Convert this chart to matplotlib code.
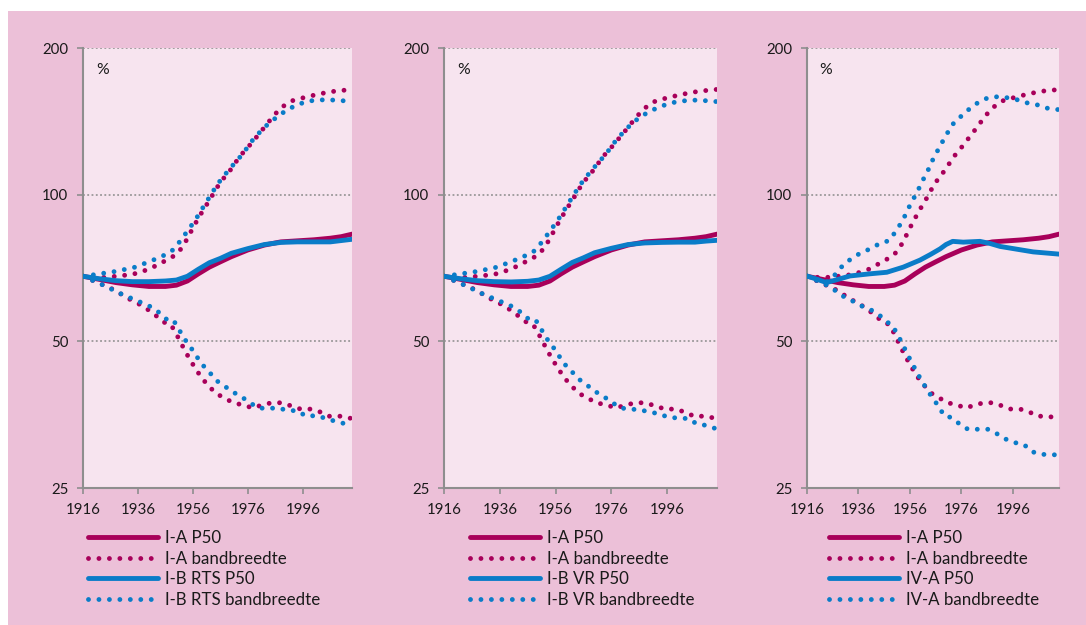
import matplotlib
matplotlib.use("Agg")
import matplotlib.pyplot as plt
from matplotlib.patches import Rectangle
from matplotlib.ticker import FixedLocator, NullLocator, FixedFormatter

plt.rcParams['font.family'] = ['Lato', 'DejaVu Sans']

# ---------------- data ----------------
# I-A (shared by all three panels)
ia_p50_years = [1916, 1922, 1928, 1934, 1940, 1946, 1950, 1954, 1958, 1962, 1966, 1970,
                1976, 1982, 1988, 1994, 2000, 2006, 2010, 2014]
ia_p50 = [68.0, 67.0, 66.0, 65.3, 64.8, 64.8, 65.2, 66.5, 68.8, 71.0, 72.8, 74.6,
          77.0, 78.8, 80.0, 80.4, 80.8, 81.4, 82.0, 83.0]

ia_up_years = [1916, 1922, 1928, 1934, 1940, 1944, 1948, 1950, 1952, 1954, 1956, 1958, 1960,
               1962, 1964, 1966, 1968, 1970, 1972, 1974, 1976, 1978, 1980, 1982, 1984, 1986,
               1988, 1990, 1992, 1996, 2000, 2004, 2008, 2012, 2014]
ia_up = [68, 67.5, 68, 68.6, 70.3, 72.2, 74.2, 75.5, 77.8, 81.3, 85.5, 89.5, 93.5,
         97.3, 101.8, 106, 109.5, 113, 117.5, 121.5, 125, 129, 133, 137.5, 142, 146.5,
         150.5, 153.5, 155.8, 158, 160, 161.8, 163.2, 164, 164.5]

ia_lo_years = [1916, 1920, 1927, 1933, 1936.7, 1940, 1943, 1945.8, 1947.9, 1949.7, 1951.5,
               1953.3, 1955.1, 1957.1, 1959.3, 1961.7, 1964.4, 1967.6, 1970.7, 1974.3,
               1977.7, 1981.2, 1984.6, 1988, 1991.5, 1995.2, 1998.8, 2002.4, 2005.6,
               2009.5, 2014]
ia_lo = [68, 66.5, 63.9, 61.0, 59.5, 57.9, 56.2, 54.6, 54.2, 52.1, 49.8,
         47.6, 45.7, 43.8, 42.0, 40.5, 39.1, 38.2, 37.4, 37.0,
         36.5, 37.0, 37.4, 37.4, 36.9, 36.3, 36.3, 35.8, 35.1,
         35.1, 34.7]

# I-B RTS
ibr_p50_years = [1916, 1922, 1928, 1934, 1940, 1946, 1950, 1954, 1958, 1962, 1966, 1970,
                 1976, 1982, 1988, 1994, 2000, 2006, 2010, 2014]
ibr_p50 = [68.0, 67.2, 66.6, 66.3, 66.3, 66.5, 66.8, 68.0, 70.3, 72.5, 74.0, 75.8,
           77.5, 79.0, 79.8, 80.0, 80.0, 80.0, 80.5, 81.0]

ibr_up_years = [1916, 1920, 1928, 1935, 1942, 1946, 1948, 1950, 1952, 1954, 1956, 1958, 1960,
                1962, 1964, 1966, 1968, 1970, 1974, 1978, 1982, 1986, 1990, 1994, 1998,
                2002, 2006, 2010, 2014]
ibr_up = [68, 68.5, 69.6, 71, 73.6, 75.3, 76.3, 78.5, 81.2, 84.2, 87.3, 90.8, 94.8,
          98.8, 103, 107, 110.5, 114, 121, 130, 137.5, 143.5, 149, 153, 155.6,
          156.5, 156.5, 156, 155.2]

ibr_lo_years = [1916, 1923.4, 1930.3, 1937.1, 1940.6, 1943.7, 1946.4, 1948.8, 1950.9, 1952.8,
                1955.1, 1957.2, 1959.4, 1961.9, 1964.4, 1967.4, 1970.4, 1973.6, 1976.5,
                1979.7, 1983, 1986.8, 1990.3, 1993.9, 1997.3, 2001, 2004.6, 2008.3, 2014]
ibr_lo = [68, 65.2, 62.4, 60.1, 58.9, 57.3, 55.5, 55.4, 52.9, 50.7,
          48.7, 46.7, 44.8, 43.3, 41.6, 40.5, 39.4, 38.5, 37.5,
          36.5, 36.4, 36.5, 36.1, 36.0, 35.1, 35.2, 34.7, 34.2, 33.6]

# I-B VR
ibv_p50_years = [1916, 1922, 1928, 1934, 1940, 1946, 1950, 1954, 1958, 1962, 1966, 1970,
                 1976, 1982, 1988, 1994, 2000, 2006, 2010, 2014]
ibv_p50 = [68.0, 67.2, 66.6, 66.3, 66.2, 66.4, 66.8, 68.0, 70.3, 72.6, 74.2, 76.0,
           77.6, 79.0, 79.6, 79.8, 79.9, 79.9, 80.3, 80.6]

ibv_up_years = [1916, 1920, 1928, 1935, 1942, 1946, 1948, 1950, 1952, 1954, 1956, 1958, 1960,
                1962, 1964, 1966, 1968, 1970, 1974, 1978, 1982, 1986, 1990, 1994, 1998,
                2002, 2006, 2010, 2014]
ibv_up = [68, 68.5, 69.6, 71, 73.6, 75.3, 76.3, 78.5, 81.2, 84.2, 87.3, 90.8, 94.8,
          98.8, 103, 107, 110.5, 114, 121, 130, 137.5, 144, 148.5, 152, 154.5,
          155.8, 156.3, 155.9, 155.2]

ibv_lo_years = [1916, 1923.4, 1930.3, 1937.1, 1940.6, 1943.7, 1946.4, 1948.8, 1950.9, 1952.8,
                1955.1, 1957.2, 1959.4, 1961.9, 1964.4, 1967.4, 1970.4, 1973.6, 1976.5,
                1979.2, 1982.5, 1986.1, 1989.7, 1993.2, 1996.5, 2000.1, 2003.7, 2006.8,
                2010.3, 2014]
ibv_lo = [68, 65.2, 62.4, 60.1, 58.9, 57.3, 55.5, 55.4, 52.9, 50.7,
          48.7, 46.7, 44.8, 43.3, 41.8, 40.6, 39.4, 38.4, 37.4,
          36.5, 36.3, 36.2, 35.8, 35.5, 34.9, 34.8, 34.7, 33.8,
          33.6, 33.0]

# IV-A
iva_p50_years = [1916, 1920, 1923.6, 1928, 1932.7, 1940.5, 1947, 1953.4, 1959.9, 1964,
                 1967.7, 1970, 1972.6, 1976.7, 1983.2, 1987.1, 1991, 1997.4, 2003.9, 2014]
iva_p50 = [68.1, 67.0, 66.0, 67.0, 68.1, 68.8, 69.3, 71.0, 73.4, 75.4,
           77.4, 79.0, 80.2, 79.9, 80.2, 79.4, 78.3, 77.3, 76.3, 75.5]

iva_up_years = [1916, 1920, 1923.6, 1927.3, 1930.1, 1933.1, 1936.6, 1940.5, 1944.1, 1947.6,
                1950.2, 1952.4, 1954.3, 1956.1, 1958.1, 1960, 1961.8, 1963.6, 1965.3,
                1967.3, 1969.1, 1971, 1973.2, 1976.1, 1979.3, 1982.5, 1986.2, 1990.1,
                1994.3, 1998.1, 2001.7, 2005.6, 2009.5, 2014]
iva_up = [68, 67, 66.2, 68.8, 71.8, 73.8, 75.8, 77.4, 79.3, 80.4,
          83.6, 87.2, 91.0, 95.4, 99.7, 104.3, 109.2, 113.8, 119.4,
          124.6, 129.8, 135.1, 140.8, 145.2, 150.3, 154.6, 158.0, 158.9,
          158.0, 156.4, 154.2, 152.8, 150.4, 149.4]

iva_lo_years = [1916, 1923, 1926.9, 1930.4, 1933.7, 1937.5, 1941.1, 1944.3, 1946.5, 1949.1,
                1951.1, 1953, 1954.8, 1956.7, 1958.6, 1960.5, 1962.7, 1964.8, 1967.3,
                1969.2, 1971.9, 1975.4, 1978.5, 1982.1, 1986.2, 1989.8, 1993.2, 1996.5,
                2000.3, 2003.3, 2006.8, 2010.1, 2014]
iva_lo = [68, 65.5, 63.6, 61.7, 60.5, 59.0, 57.9, 56.5, 55.0, 54.0,
          51.7, 49.5, 47.3, 45.2, 43.3, 41.5, 39.8, 38.2, 36.7,
          35.2, 34.9, 33.8, 33.0, 33.0, 33.0, 32.3, 31.5, 31.0,
          30.7, 29.7, 29.3, 29.3, 29.2]

y_ticks = [25, 50, 100, 200]
x_ticks = [1916, 1936, 1956, 1976, 1996]

panel_labels = [
    ["I-A P50", "I-A bandbreedte", "I-B RTS P50", "I-B RTS bandbreedte"],
    ["I-A P50", "I-A bandbreedte", "I-B VR P50", "I-B VR bandbreedte"],
    ["I-A P50", "I-A bandbreedte", "IV-A P50", "IV-A bandbreedte"],
]
second_series = [
    (ibr_p50_years, ibr_p50, ibr_up_years, ibr_up, ibr_lo_years, ibr_lo),
    (ibv_p50_years, ibv_p50, ibv_up_years, ibv_up, ibv_lo_years, ibv_lo),
    (iva_p50_years, iva_p50, iva_up_years, iva_up, iva_lo_years, iva_lo),
]

# ---------------- style ----------------
MAG = '#A8005A'
BLUE = '#0A7CC8'
OUTER = '#ECC0D8'
INNER = '#F7E4EF'
GRAY = '#8E8E8E'
LW = 3.5
DOT = dict(linestyle=(0, (0.001, 2.15)), dash_capstyle='round')
FS = 10.8
LFS = 12.2

W, H = 1086, 625
fig = plt.figure(figsize=(W / 100, H / 100), dpi=100, facecolor='white')
fig.patches.append(Rectangle((8 / W, 0), 1 - 8 / W, 1 - 11 / H, transform=fig.transFigure,
                             facecolor=OUTER, edgecolor='none', zorder=-10))

panels = [(83, 352), (444, 717), (807, 1059)]
legend_x = [88, 470, 829]
top_px, bot_px = 48, 488

for i, (l, r) in enumerate(panels):
    ax = fig.add_axes([l / W, (H - bot_px) / H, (r - l) / W, (bot_px - top_px) / H])
    ax.set_facecolor(INNER)
    ax.set_yscale('log')
    ax.set_ylim(25, 200)
    ax.set_xlim(1916, 2013.9)
    ax.yaxis.set_major_locator(FixedLocator(y_ticks))
    ax.yaxis.set_major_formatter(FixedFormatter([str(v) for v in y_ticks]))
    ax.yaxis.set_minor_locator(NullLocator())
    ax.set_xticks(x_ticks)
    ax.set_xticklabels([str(v) for v in x_ticks])
    for s in ['top', 'right']:
        ax.spines[s].set_visible(False)
    for s in ['left', 'bottom']:
        ax.spines[s].set_color(GRAY)
        ax.spines[s].set_linewidth(1.5)
    ax.tick_params(axis='both', direction='out', length=4, width=1.2, color=GRAY,
                   labelsize=FS, labelcolor='#1a1a1a', pad=6.5)
    for v in [50, 100, 200]:
        ax.axhline(v, color='#8a8a8a', linewidth=1.1, linestyle=(0, (1.2, 1.6)), zorder=1)

    yb = second_series[i]
    h1, = ax.plot(ia_p50_years, ia_p50, color=MAG, linewidth=LW, solid_capstyle='round', zorder=3)
    h2, = ax.plot(ia_up_years, ia_up, color=MAG, linewidth=LW, zorder=3, **DOT)
    ax.plot(ia_lo_years, ia_lo, color=MAG, linewidth=LW, zorder=3, **DOT)
    h3, = ax.plot(yb[0], yb[1], color=BLUE, linewidth=LW, solid_capstyle='round', zorder=4)
    h4, = ax.plot(yb[2], yb[3], color=BLUE, linewidth=LW, zorder=4, **DOT)
    ax.plot(yb[4], yb[5], color=BLUE, linewidth=LW, zorder=4, **DOT)

    ax.text(0.05, 0.95, '%', transform=ax.transAxes, fontsize=FS + 0.5, va='center',
            ha='left', color='#1a1a1a')

    ax.legend([h1, h2, h3, h4], panel_labels[i], loc='upper left',
              bbox_to_anchor=(legend_x[i] / W, (H - 530) / H), bbox_transform=fig.transFigure,
              frameon=False, fontsize=LFS, borderpad=0, borderaxespad=0,
              handlelength=4.15, handletextpad=0.42, labelspacing=0.27,
              labelcolor='#1a1a1a')

fig.savefig('out.png', dpi=100, facecolor='white')
